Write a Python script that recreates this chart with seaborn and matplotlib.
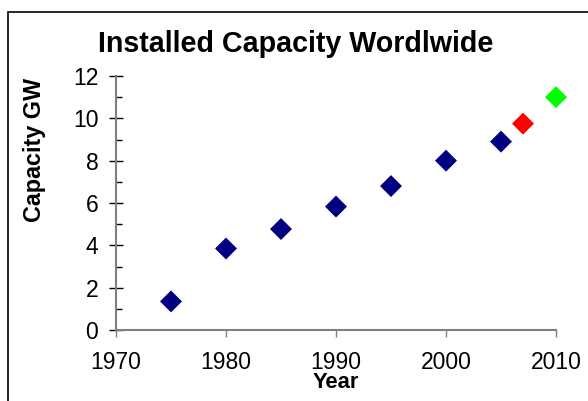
import numpy as np
import pandas as pd
import matplotlib
matplotlib.use("Agg")
import matplotlib.pyplot as plt
import seaborn as sns
from matplotlib.patches import Rectangle
from matplotlib.ticker import MultipleLocator

# --- DATA --- #
years = [1975, 1980, 1985, 1990, 1995, 2000, 2005, 2007, 2010]
capacity_gw = [1.35, 3.85, 4.77, 5.83, 6.8, 8.0, 8.9, 9.75, 11.0]
kind = ["actual"] * 7 + ["estimate", "projection"]
kind_colors = {"actual": "#000080", "estimate": "#FF0000", "projection": "#00FF00"}

x_ticks = [1970, 1980, 1990, 2000, 2010]
y_ticks = [0, 2, 4, 6, 8, 10, 12]

df = pd.DataFrame({"Year": years, "Capacity": capacity_gw, "kind": kind})

# --- STYLE --- #
sns.set_style("white")
plt.rcParams["font.family"] = ["Liberation Sans", "DejaVu Sans"]
plt.rcParams["text.color"] = "black"
plt.rcParams["xtick.color"] = "black"
plt.rcParams["ytick.color"] = "black"

fig = plt.figure(figsize=(5.88, 4.01), dpi=100)
ax = fig.add_axes([116 / 588, 71 / 401, 440 / 588, 254 / 401])

# --- SCATTER --- #
sns.scatterplot(data=df, x="Year", y="Capacity", hue="kind", palette=kind_colors,
                marker="D", s=125, linewidth=0, legend=False, ax=ax, clip_on=False,
                zorder=3)

ax.set_xlim(1970, 2010)
ax.set_ylim(0, 12)
ax.set_xticks(x_ticks)
ax.set_yticks(y_ticks)
ax.yaxis.set_minor_locator(MultipleLocator(1))

for side in ["top", "right"]:
    ax.spines[side].set_visible(False)
for side in ["left", "bottom"]:
    ax.spines[side].set_color("#808080")
    ax.spines[side].set_linewidth(1.5)

ax.tick_params(axis="y", which="major", left=True, direction="inout", length=9.4,
               width=1, color="black", labelcolor="black", labelsize=16.5, pad=8)
ax.tick_params(axis="y", which="minor", left=True, direction="in", length=4.5,
               width=1, color="black")
ax.tick_params(axis="x", which="major", bottom=True, direction="out", length=5,
               width=1, color="#808080", labelcolor="black", labelsize=16.5, pad=10)

ax.set_xlabel("")
ax.set_ylabel("")

# --- TEXTS --- #
fig.text(296 / 588, 1 - 51.7 / 401, "Installed Capacity Wordlwide", ha="center",
         va="baseline", fontsize=20.6, fontweight="bold", color="black")
fig.text(336 / 588, 1 - 388 / 401, "Year", ha="center", va="baseline",
         fontsize=15.8, fontweight="bold", color="black")
fig.text(35 / 588, 1 - 150 / 401, "Capacity GW", ha="center", va="center",
         rotation=90, fontsize=16.8, fontweight="bold", color="black")

# --- CHART FRAME --- #
fig.patches.append(Rectangle((8 / 588, -0.1), 2, 1.1 - 12 / 401, transform=fig.transFigure,
                             fill=False, edgecolor="black", linewidth=1.2))

fig.savefig("out.png", dpi=100)
